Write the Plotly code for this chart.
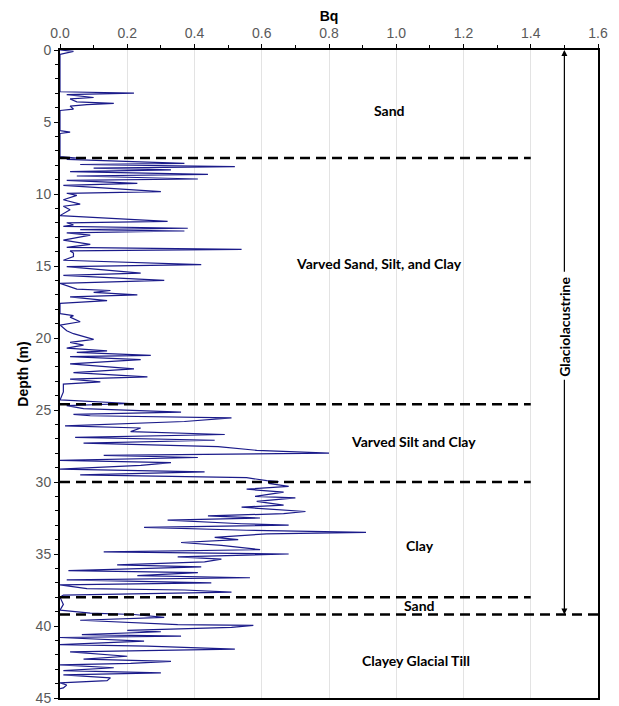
import plotly.graph_objects as go

# ---- Data (depth in m, Bq) ----
depth = [0.0, 0.1, 0.3, 2.9, 3.0, 3.1, 3.3, 3.4, 3.6, 3.7, 3.8, 3.9, 4.1, 4.2, 5.6, 5.7, 5.8,
         7.4, 7.5, 7.6, 7.87, 7.95, 8.1, 8.2, 8.33, 8.45, 8.64, 8.75, 8.96, 9.05, 9.26, 9.4,
         9.84, 9.95, 10.1, 10.4, 10.7, 10.85, 11.1, 11.5, 11.9, 12.0, 12.15, 12.25, 12.38,
         12.47, 12.57, 12.7, 12.85, 13.2, 13.5, 13.7, 13.84, 13.95, 14.1, 14.35, 14.6, 14.9,
         15.05, 15.5, 15.65, 16.0, 16.2, 16.6, 16.7, 16.83, 17.0, 17.15, 17.4, 17.6,
         18.3, 18.45, 18.55, 18.87, 19.1, 19.5, 19.7, 20.1, 20.3, 20.5, 20.7, 20.9, 21.0,
         21.2, 21.3, 21.5, 21.8, 22.15, 22.4, 22.7, 22.85, 23.05, 23.2, 23.75, 24.3, 24.55,
         24.7, 24.9, 25.15, 25.3, 25.4, 25.55, 25.8, 26.1, 26.25, 26.5, 26.7, 26.9, 27.1,
         27.3, 27.55, 27.8, 28.0, 28.15, 28.3, 28.5, 28.65, 28.85, 29.1, 29.3, 29.5, 29.7,
         29.9, 29.98, 30.1, 30.3, 30.5, 30.7, 31.0, 31.1, 31.35, 31.6, 31.75, 32.05, 32.2,
         32.35, 32.5, 32.65, 32.9, 33.0, 33.15, 33.35, 33.5, 33.6, 33.85, 34.0, 34.2, 34.4,
         34.7, 34.85, 35.0, 35.2, 35.35, 35.55, 35.75, 35.9, 36.15, 36.3, 36.5, 36.65, 36.8,
         37.0, 37.15, 37.4, 37.5, 37.65, 37.85, 38.0, 38.5, 38.9, 39.1, 39.2, 39.4, 39.6,
         39.9, 39.95, 40.1, 40.3, 40.4, 40.6, 40.7, 40.8, 41.05, 41.3, 41.4, 41.6, 41.8,
         42.1, 42.3, 42.45, 42.6, 42.7, 42.9, 43.1, 43.25, 43.4, 43.6, 43.8, 43.95, 44.1,
         44.3, 44.35]
bq = [0.0, 0.04, 0.0, 0.0, 0.22, 0.02, 0.10, 0.03, 0.05, 0.16, 0.08, 0.03, 0.04, 0.0, 0.0, 0.03, 0.0,
      0.0, 0.05, 0.02, 0.37, 0.06, 0.52, 0.10, 0.33, 0.03, 0.44, 0.05, 0.41, 0.02, 0.23, 0.01,
      0.30, 0.02, 0.05, 0.01, 0.06, 0.01, 0.03, 0.0, 0.32, 0.02, 0.04, 0.01, 0.38,
      0.06, 0.37, 0.02, 0.09, 0.01, 0.09, 0.02, 0.54, 0.03, 0.04, 0.04, 0.01, 0.42,
      0.02, 0.24, 0.01, 0.31, 0.0, 0.05, 0.15, 0.10, 0.23, 0.03, 0.14, 0.0,
      0.0, 0.04, 0.03, 0.06, 0.0, 0.02, 0.04, 0.10, 0.03, 0.07, 0.02, 0.14, 0.05,
      0.27, 0.03, 0.24, 0.03, 0.22, 0.04, 0.26, 0.03, 0.12, 0.01, 0.01, 0.0, 0.21,
      0.02, 0.07, 0.36, 0.04, 0.09, 0.51, 0.37, 0.015, 0.24, 0.21, 0.49, 0.045, 0.46,
      0.07, 0.47, 0.585, 0.80, 0.13, 0.41, 0.0, 0.33, 0.24, 0.0, 0.43, 0.06, 0.555,
      0.615, 0.65, 0.62, 0.68, 0.555, 0.665, 0.58, 0.70, 0.585, 0.665, 0.54, 0.73, 0.665,
      0.44, 0.595, 0.32, 0.54, 0.68, 0.25, 0.555, 0.91, 0.615, 0.46, 0.53, 0.36, 0.48,
      0.595, 0.13, 0.68, 0.35, 0.48, 0.43, 0.17, 0.42, 0.025, 0.41, 0.23, 0.565, 0.02,
      0.45, 0.0, 0.08, 0.37, 0.51, 0.01, 0.0, 0.01, 0.0, 0.09, 0.22, 0.31, 0.06,
      0.35, 0.575, 0.51, 0.20, 0.30, 0.065, 0.36, 0.0, 0.25, 0.0, 0.26, 0.52, 0.03,
      0.20, 0.07, 0.33, 0.21, 0.0, 0.16, 0.01, 0.30, 0.01, 0.15, 0.14, 0.0, 0.02,
      0.01, 0.0]

layer_bounds = [7.5, 24.6, 30.0, 38.0, 39.2]
layer_ends = [1.4, 1.4, 1.4, 1.4, 1.6]

layer_labels = ["Sand", "Varved Sand, Silt, and Clay", "Varved Silt and Clay", "Clay", "Sand",
                "Clayey Glacial Till"]
label_x = [0.98, 0.95, 1.05, 1.07, 1.07, 1.06]
label_y = [4.2, 14.8, 27.2, 34.4, 38.6, 42.4]

fig = go.Figure()
fig.add_trace(go.Scatter(x=bq, y=depth, mode="lines",
                         line=dict(color="#1b1b8a", width=1.2), showlegend=False))

for yb, xe in zip(layer_bounds, layer_ends):
    fig.add_shape(type="line", x0=0, x1=xe, y0=yb, y1=yb, xref="x", yref="y",
                  line=dict(color="black", width=2.5, dash="10px,6px"))

for t, lx, ly in zip(layer_labels, label_x, label_y):
    fig.add_annotation(x=lx, y=ly, text="<b>" + t + "</b>", showarrow=False,
                       font=dict(family="Lato", size=14, color="black"))

# Glaciolacustrine bracket
fig.add_annotation(x=1.5, y=0, ax=1.5, ay=15.5, xref="x", yref="y", axref="x", ayref="y",
                   text="", showarrow=True, arrowhead=2, arrowsize=1, arrowwidth=1.2,
                   arrowcolor="black")
fig.add_annotation(x=1.5, y=39.2, ax=1.5, ay=22.8, xref="x", yref="y", axref="x", ayref="y",
                   text="", showarrow=True, arrowhead=2, arrowsize=1, arrowwidth=1.2,
                   arrowcolor="black")
fig.add_annotation(x=1.5, y=19.2, text="<b>Glaciolacustrine</b>", textangle=-90,
                   showarrow=False, font=dict(family="Lato", size=14, color="black"))

tick_font = dict(family="Liberation Sans, Arial", size=14, color="#595959")

fig.update_layout(
    width=611, height=698,
    margin=dict(l=52, r=21, t=42, b=8),
    plot_bgcolor="white", paper_bgcolor="white",
    xaxis=dict(side="top", range=[0, 1.6], dtick=0.2, tickformat=".1f", automargin=False,
               showgrid=True, gridcolor="#e3e3e3", gridwidth=1, zeroline=False,
               showline=True, linecolor="black", linewidth=2, mirror=True,
               ticks="outside", ticklen=4, tickcolor="black", tickfont=tick_font,
               minor=dict(dtick=0.1, ticks="outside", ticklen=3, tickcolor="black", showgrid=False),
               title=dict(text="<b>Bq</b>", font=dict(family="Liberation Sans, Arial", size=14, color="black"),
                          standoff=6)),
    yaxis=dict(range=[45, 0], dtick=5, showgrid=False, zeroline=False, automargin=False,
               showline=True, linecolor="black", linewidth=2, mirror=True,
               ticks="outside", ticklen=4, tickcolor="black", tickfont=tick_font,
               minor=dict(dtick=1, ticks="outside", ticklen=3, tickcolor="black"),
               title=dict(text="<b>Depth (m)</b>", font=dict(family="Liberation Sans, Arial", size=14, color="black"),
                          standoff=4)),
)

fig.write_html("out.html")
